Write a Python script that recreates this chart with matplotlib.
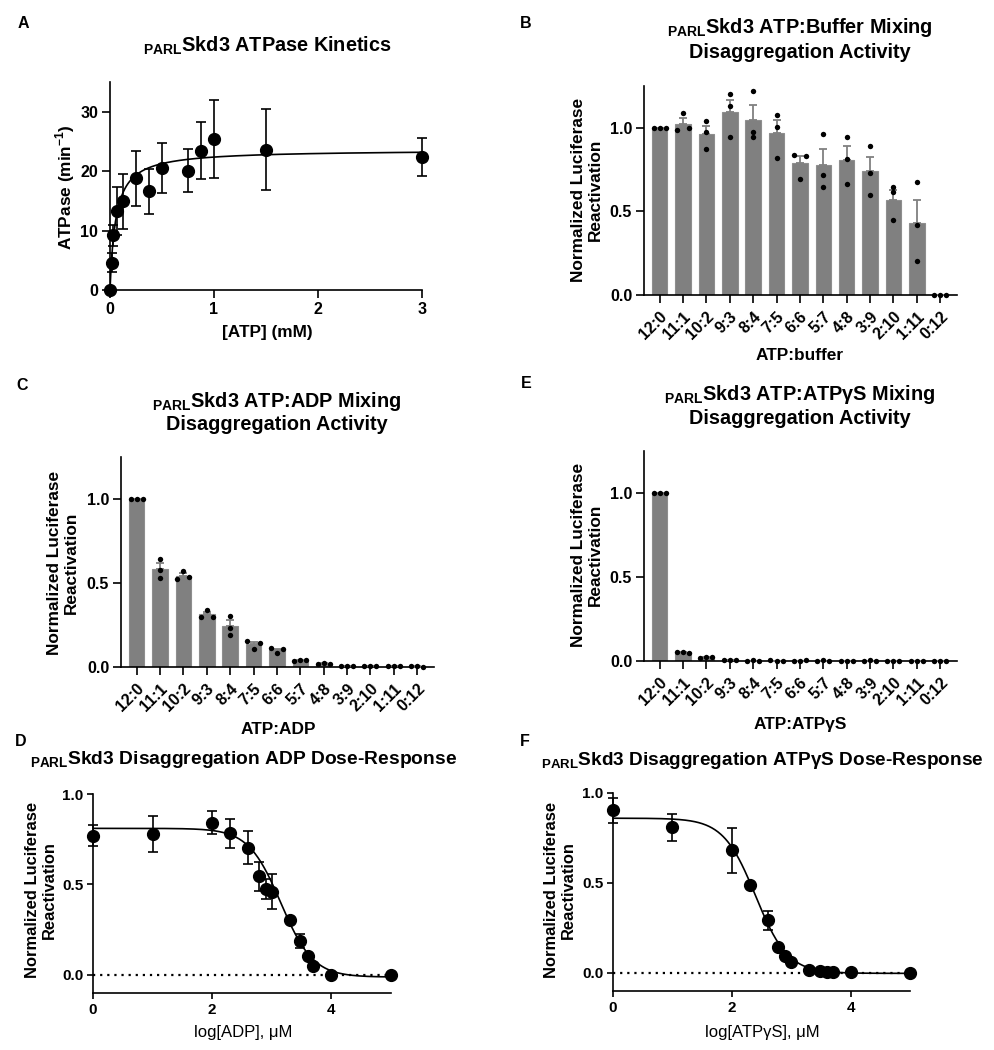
import numpy as np
import matplotlib
matplotlib.use("Agg")
import matplotlib.pyplot as plt

plt.rcParams["font.family"] = ["Liberation Sans", "DejaVu Sans"]
plt.rcParams["font.weight"] = "bold"
plt.rcParams["mathtext.fontset"] = "custom"
plt.rcParams["mathtext.rm"] = "Liberation Sans"
plt.rcParams["mathtext.bf"] = "Liberation Sans:bold"

# ─────────────────────────────────────────────
# DATA
# ─────────────────────────────────────────────
# A: ATPase kinetics (mean ± SEM)
atp_mM = [0, 0.015625, 0.03125, 0.0625, 0.125, 0.25, 0.375, 0.5, 0.75, 0.875, 1.0, 1.5, 3.0]
atpase_rate = [0, 4.6, 9.2, 13.3, 14.9, 18.8, 16.6, 20.5, 20.1, 23.4, 25.4, 23.6, 22.3]
atpase_err = [0, 1.6, 1.8, 4.1, 4.7, 4.6, 3.8, 4.2, 3.6, 4.8, 6.6, 6.8, 3.2]
VMAX, KM = 23.6, 0.055   # Michaelis-Menten fit

# B, C, E: mixing ratios, three replicates each
ratio_labels = ["12:0", "11:1", "10:2", "9:3", "8:4", "7:5", "6:6",
                "5:7", "4:8", "3:9", "2:10", "1:11", "0:12"]
buffer_reps = [
    [1.0, 1.0, 1.0], [0.984, 1.088, 1.0], [1.038, 0.974, 0.874],
    [1.2, 1.132, 0.946], [1.22, 0.974, 0.946], [1.078, 1.004, 0.822],
    [0.838, 0.692, 0.83], [0.962, 0.718, 0.648], [0.944, 0.816, 0.662],
    [0.894, 0.73, 0.598], [0.646, 0.614, 0.448], [0.678, 0.416, 0.204],
    [0.0, 0.0, 0.0],
]
adp_reps = [
    [1.0, 1.0, 1.0], [0.644, 0.58, 0.53], [0.522, 0.57, 0.538],
    [0.296, 0.342, 0.30], [0.306, 0.234, 0.192], [0.154, 0.108, 0.144],
    [0.112, 0.084, 0.106], [0.036, 0.04, 0.04], [0.02, 0.022, 0.02],
    [0.008, 0.008, 0.006], [0.004, 0.005, 0.004], [0.004, 0.004, 0.003],
    [0.003, 0.003, 0.002],
]
atpgs_reps = [
    [1.0, 1.0, 1.0], [0.052, 0.052, 0.05], [0.02, 0.024, 0.022],
    [0.006, 0.005, 0.006], [0.002, 0.003, 0.002], [0.003, 0.002, 0.002],
    [0.002, 0.002, 0.003], [0.002, 0.003, 0.002], [0.002, 0.002, 0.002],
    [0.002, 0.003, 0.002], [0.002, 0.002, 0.002], [0.002, 0.002, 0.002],
    [0.002, 0.002, 0.002],
]

# D, F: dose-response (mean ± SEM)
conc_uM = [1, 10, 100, 200, 400, 600, 800, 1000, 2000, 3000, 4000, 5000, 10000, 100000]
adp_resp = [0.768, 0.78, 0.841, 0.783, 0.704, 0.546, 0.476, 0.459, 0.304, 0.187, 0.106, 0.052, 0.0, 0.0]
adp_err = [0.058, 0.10, 0.064, 0.079, 0.092, 0.08, 0.056, 0.097, 0.012, 0.04, 0.012, 0.01, 0.005, 0.005]
ADP_FIT = dict(top=0.81, bottom=-0.012, logic50=3.15, hill=1.6)

atpgs_resp = [0.903, 0.809, 0.682, 0.487, 0.294, 0.143, 0.093, 0.063, 0.019, 0.011, 0.007, 0.006, 0.004, -0.002]
atpgs_err = [0.068, 0.076, 0.125, 0.01, 0.053, 0.01, 0.01, 0.01, 0.005, 0.005, 0.005, 0.005, 0.005, 0.005]
ATPGS_FIT = dict(top=0.86, bottom=-0.002, logic50=2.4, hill=1.6)

BAR_GRAY = "#808080"
BAR_EDGE = "#8e8e8e"
W, H = 995, 1050


# ─────────────────────────────────────────────
# HELPERS
# ─────────────────────────────────────────────
def axes_px(fig, left, top, right, bottom):
    return fig.add_axes([left / W, 1 - bottom / H, (right - left) / W, (bottom - top) / H])


def fx(x):
    return x / W


def fy(y):
    return 1 - y / H


def style(ax, size=11.5, length=6):
    for s in ("top", "right"):
        ax.spines[s].set_visible(False)
    for s in ("left", "bottom"):
        ax.spines[s].set_linewidth(1.2)
    ax.tick_params(width=1.2, length=length, labelsize=size, pad=2.5)


def swarm_offsets(vals, thr=0.02, d=0.26):
    # spread points that overlap vertically (GraphPad-like)
    order = sorted(range(len(vals)), key=lambda i: vals[i])
    clusters, cur = [], [order[0]]
    for i in order[1:]:
        if vals[i] - vals[cur[-1]] < thr:
            cur.append(i)
        else:
            clusters.append(cur)
            cur = [i]
    clusters.append(cur)
    off = np.zeros(len(vals))
    pattern = {1: [0], 2: [-d, d], 3: [-d, 0, d]}
    for c in clusters:
        for j, i in enumerate(sorted(c)):
            off[i] = pattern[len(c)][j]
    return off


def bar_panel(ax, reps, labels):
    x = np.arange(len(labels))
    means = np.array([np.mean(r) for r in reps])
    sems = np.array([np.std(r, ddof=1) / np.sqrt(len(r)) for r in reps])
    ax.bar(x, means, width=0.66, color=BAR_GRAY, edgecolor=BAR_EDGE, linewidth=0.8, zorder=2)
    ax.errorbar(x, means, yerr=[np.zeros(len(x)), sems], fmt="none", ecolor=BAR_GRAY,
                elinewidth=1.3, capsize=2.8, capthick=1.3, zorder=3)
    for i, r in enumerate(reps):
        ax.scatter(i + swarm_offsets(r), r, s=15, color="black", linewidths=0,
                   zorder=4, clip_on=False)
    ax.set_xlim(-0.67, len(labels) - 1 + 0.72)
    ax.set_ylim(0, 1.25)
    ax.set_yticks([0, 0.5, 1.0])
    ax.set_yticklabels(["0.0", "0.5", "1.0"])
    ax.set_xticks(x)
    ax.set_xticklabels(labels, rotation=45, ha="right", rotation_mode="anchor")
    style(ax)
    ax.tick_params(axis="x", pad=4)


def dose_panel(ax, resp, err, fit):
    lx = np.log10(conc_uM)
    ax.errorbar(lx, resp, yerr=err, fmt="o", color="black", ms=8.5, elinewidth=1.2,
                capsize=3.4, capthick=1.2, clip_on=False, zorder=4)
    xs = np.linspace(0, 5, 400)
    ys = fit["bottom"] + (fit["top"] - fit["bottom"]) / (1 + 10 ** ((xs - fit["logic50"]) * fit["hill"]))
    ax.plot(xs, ys, color="black", lw=1.2, zorder=3)
    ax.plot([0, 5], [0, 0], color="black", lw=1.6, ls=(0, (1, 2.2)), zorder=2)
    ax.set_xlim(0, 5)
    ax.set_ylim(-0.1, 1.0)
    ax.set_xticks([0, 2, 4])
    ax.set_yticks([0, 0.5, 1.0])
    ax.set_yticklabels(["0.0", "0.5", "1.0"])
    style(ax, size=11, length=4.5)


def title(fig, x, y, text, size=14.3):
    fig.text(fx(x), fy(y), text, ha="center", va="baseline", fontsize=size, fontweight="bold")


def ylab(fig, x, y, text, size=12.4):
    fig.text(fx(x), fy(y), text, ha="center", va="center", rotation=90, fontsize=size,
             fontweight="bold", multialignment="center", linespacing=1.2)


# ─────────────────────────────────────────────
# FIGURE
# ─────────────────────────────────────────────
fig = plt.figure(figsize=(W / 100, H / 100), dpi=100)
sub = r"$_{\mathbf{PARL}}$"
norm_lab = "Normalized Luciferase\nReactivation"

# ── A ──
axA = axes_px(fig, 110, 82, 422, 290)
axA.errorbar(atp_mM, atpase_rate, yerr=atpase_err, fmt="o", color="black", ms=8.5,
             elinewidth=1.2, capsize=3.6, capthick=1.2, clip_on=False, zorder=4)
xs = np.linspace(0, 3, 400)
axA.plot(xs, VMAX * xs / (KM + xs), color="black", lw=1.2)
axA.set_xlim(0, 3)
axA.set_ylim(0, 35)
axA.set_xticks([0, 1, 2, 3])
axA.set_yticks([0, 10, 20, 30])
style(axA)
title(fig, 267, 52, sub + "Skd3 ATPase Kinetics")
ylab(fig, 65, 187, r"ATPase (min$^{\mathbf{-1}}$)")
fig.text(fx(267), fy(333), "[ATP] (mM)", ha="center", va="center", fontsize=12.4)

# ── B ──
axB = axes_px(fig, 644, 86, 957, 295)
bar_panel(axB, buffer_reps, ratio_labels)
title(fig, 800, 33, sub + "Skd3 ATP:Buffer Mixing")
title(fig, 800, 58, "Disaggregation Activity")
ylab(fig, 587, 190, norm_lab)
fig.text(fx(800), fy(356), "ATP:buffer", ha="center", va="center", fontsize=12.4)

# ── C ──
axC = axes_px(fig, 121, 457, 434, 667)
bar_panel(axC, adp_reps, ratio_labels)
title(fig, 277, 407, sub + "Skd3 ATP:ADP Mixing")
title(fig, 277, 430, "Disaggregation Activity")
ylab(fig, 63, 563, norm_lab)
fig.text(fx(278), fy(729), "ATP:ADP", ha="center", va="center", fontsize=12.4)

# ── E ──
axE = axes_px(fig, 644, 451, 957, 661)
bar_panel(axE, atpgs_reps, ratio_labels)
title(fig, 800, 400, sub + "Skd3 ATP:ATPγS Mixing")
title(fig, 800, 424, "Disaggregation Activity")
ylab(fig, 587, 555, norm_lab)
fig.text(fx(800), fy(724), "ATP:ATPγS", ha="center", va="center", fontsize=12.4)

# ── D ──
axD = axes_px(fig, 93, 794, 391, 993)
dose_panel(axD, adp_resp, adp_err, ADP_FIT)
title(fig, 244, 764, sub + "Skd3 Disaggregation ADP Dose-Response", size=13.9)
ylab(fig, 41, 890, norm_lab, size=11.9)
fig.text(fx(243), fy(1033), "log[ADP], μM", ha="center", va="center", fontsize=12, fontweight="normal")

# ── F ──
axF = axes_px(fig, 613, 793, 910, 991)
dose_panel(axF, atpgs_resp, atpgs_err, ATPGS_FIT)
title(fig, 762, 765, sub + "Skd3 Disaggregation ATPγS Dose-Response", size=13.7)
ylab(fig, 560, 890, norm_lab, size=11.9)
fig.text(fx(762), fy(1033), "log[ATPγS], μM", ha="center", va="center", fontsize=12, fontweight="normal")

# panel letters
for letter, (px, py) in {"A": (23, 24), "B": (526, 23), "C": (22, 385),
                         "E": (526, 384), "D": (21, 742), "F": (525, 742)}.items():
    fig.text(fx(px), fy(py), letter, ha="center", va="center", fontsize=11.5, fontweight="bold")

fig.savefig("out.png", dpi=100)
